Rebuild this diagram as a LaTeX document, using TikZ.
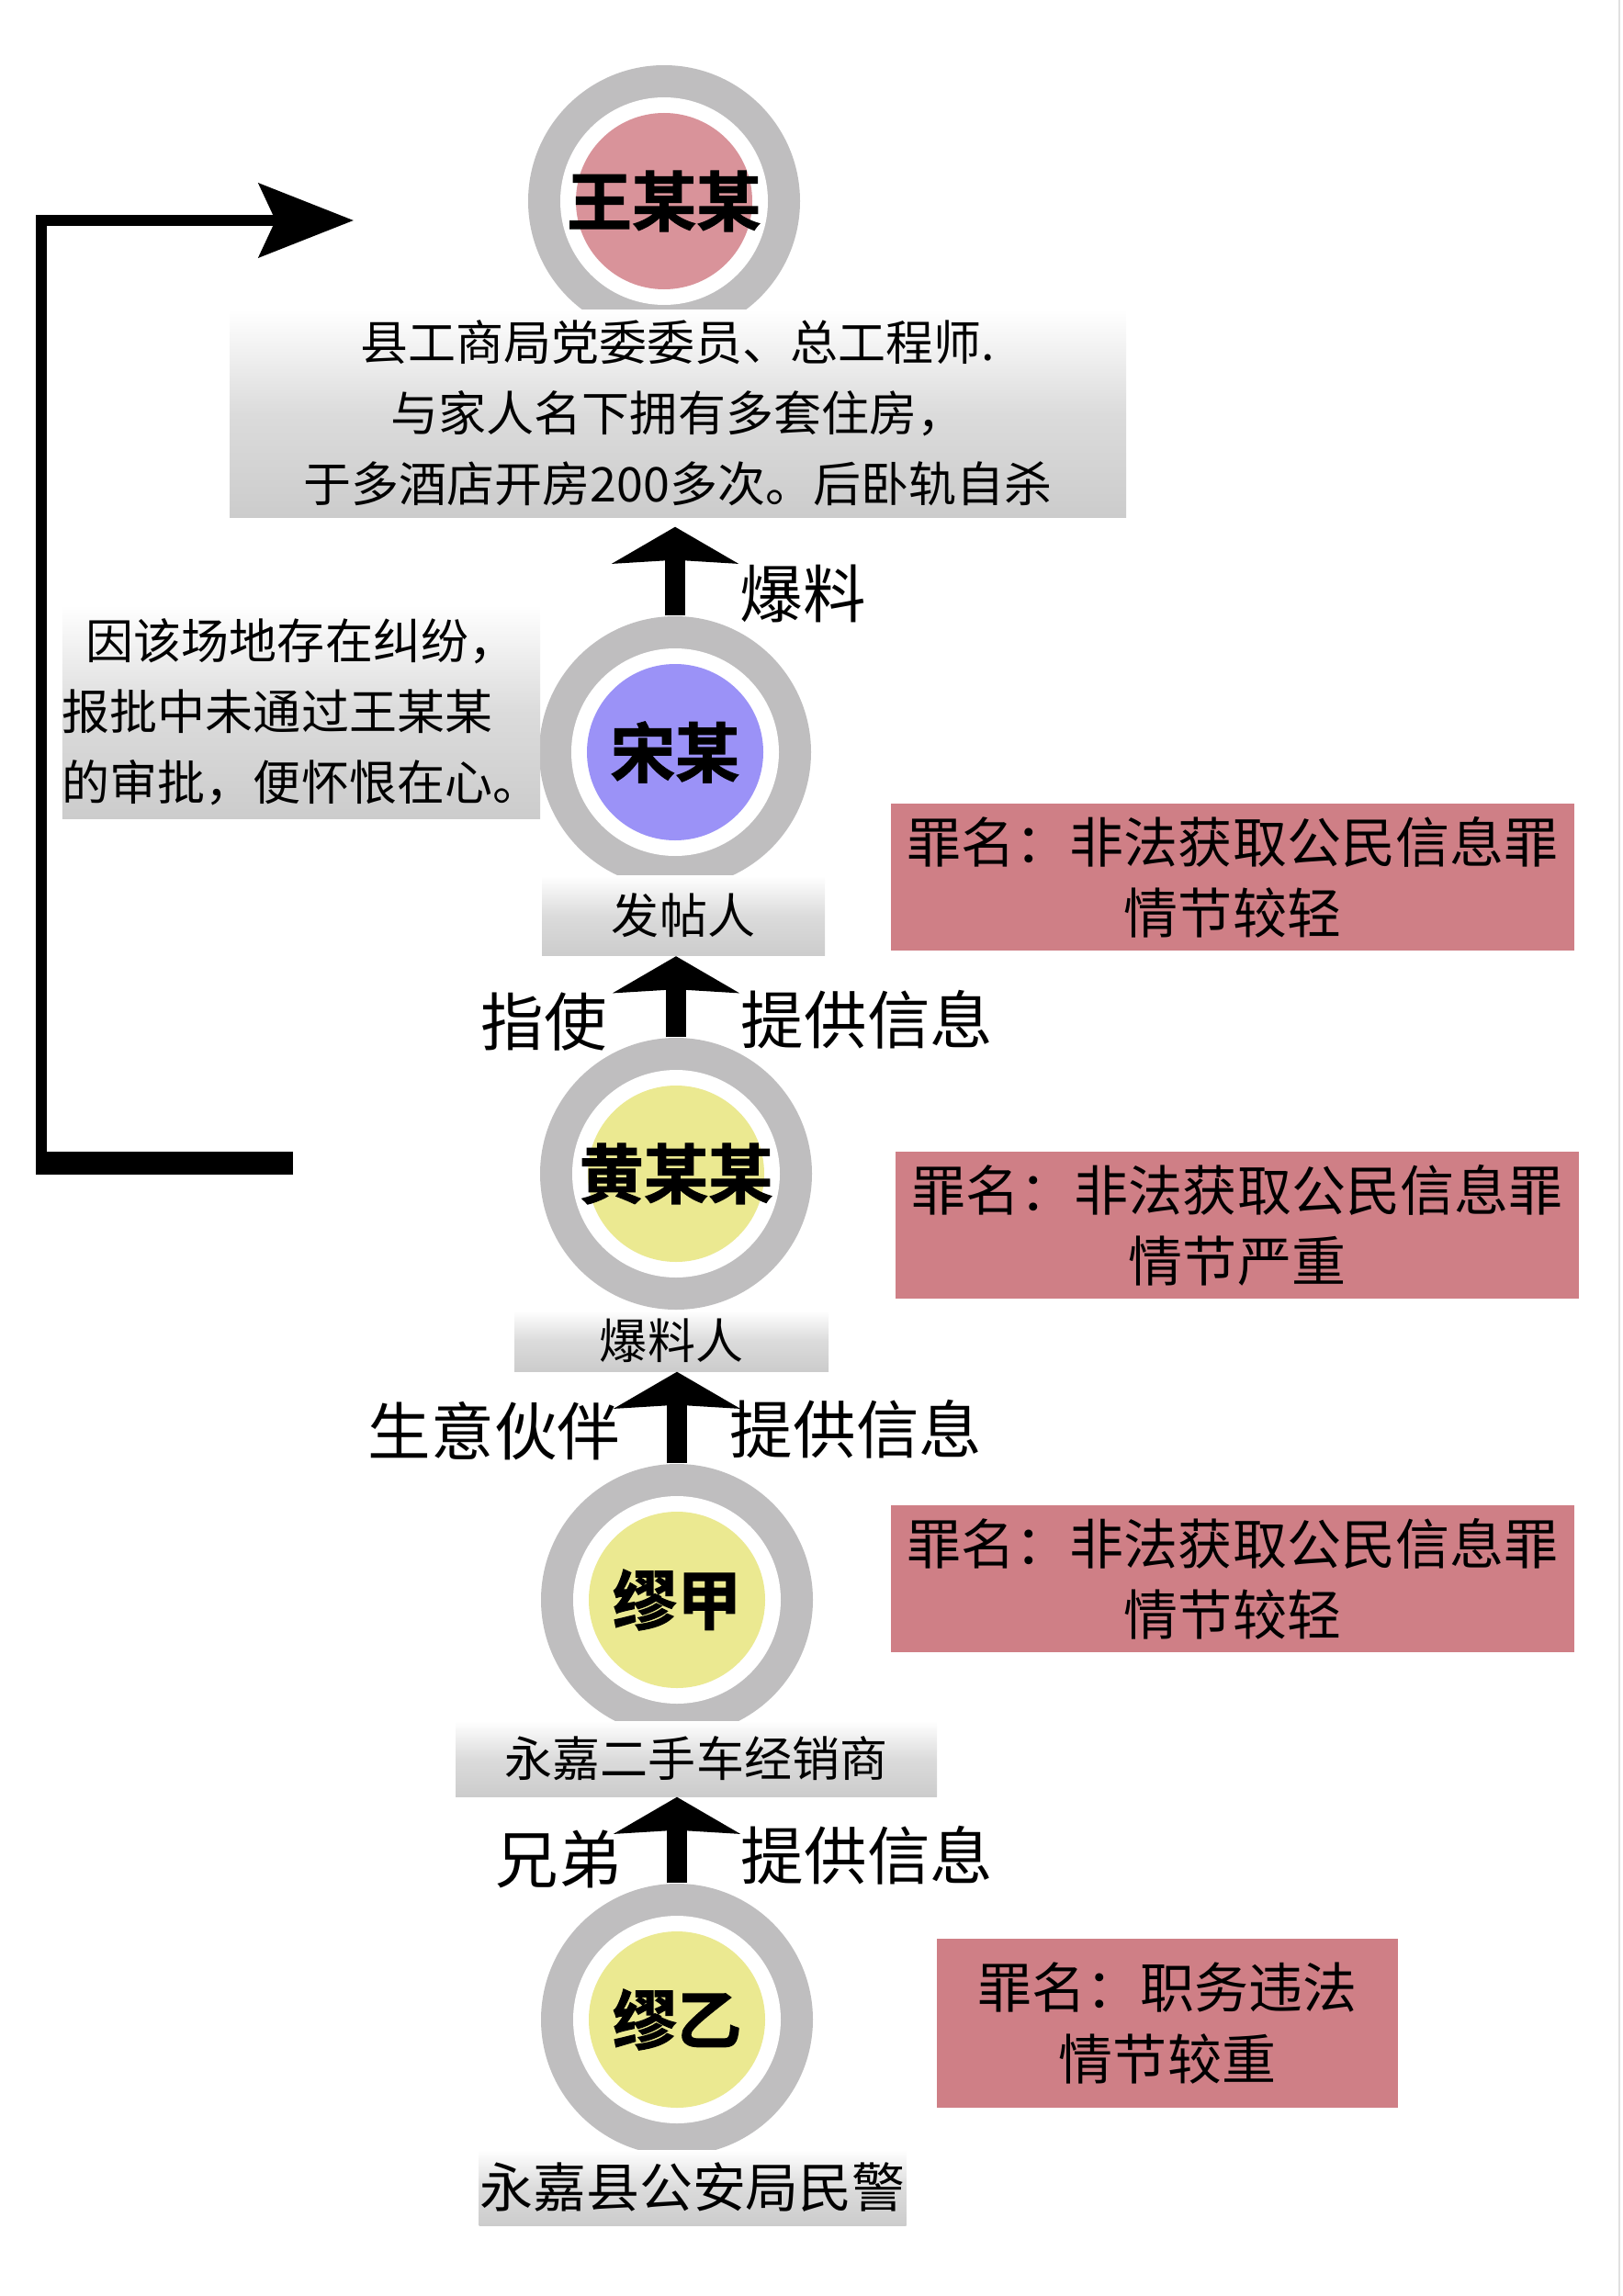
\documentclass[tikz,border=0pt]{standalone}
\usepackage{fontspec}
\newfontfamily\cjk{Noto Sans CJK SC}
\newfontfamily\cjkheavy{Noto Sans CJK SC}[UprightFont=* Bold, FakeBold=1.6]
\usetikzlibrary{arrows.meta}
\definecolor{ringgray}{RGB}{191,190,191}
\definecolor{boxgray}{RGB}{204,204,204}
\definecolor{crimered}{RGB}{207,127,134}
\definecolor{wangpink}{RGB}{217,147,154}
\definecolor{songblue}{RGB}{155,146,247}
\definecolor{suspyellow}{RGB}{235,233,145}
\tikzset{
  person/.style={circle, inner sep=0, minimum size=2.96cm, fill=ringgray,
    font=\cjkheavy\fontsize{20pt}{24pt}\selectfont,
    path picture={\fill[white] (path picture bounding box.center) circle (1.13cm);
      \fill[#1] (path picture bounding box.center) circle (0.96cm);}},
  infobox/.style={top color=white, bottom color=boxgray, middle color=boxgray!70!white,
    inner sep=0, align=center, font=\cjk\fontsize{14.8pt}{21.9pt}\selectfont},
  crimebox/.style={fill=crimered, inner sep=0, align=center, minimum height=1.6cm,
    font=\cjk\fontsize{16.8pt}{22pt}\selectfont},
  rel/.style={font=\cjk\fontsize{19.5pt}{23pt}\selectfont},
  flowarrow/.style={line width=0.22cm, -{Stealth[length=0.4cm, width=1.37cm, inset=0.04cm]}}
}
\begin{document}
\begin{tikzpicture}
\useasboundingbox (0,0) rectangle (17.67,-25);
\draw[black!12, line width=0.02cm] (17.63,0) -- (17.63,-25);
\node[person=wangpink] (wang) at (7.23,-2.19){王某某};
\node[person=songblue] (song) at (7.35,-8.19){宋某};
\node[person=suspyellow] (huang) at (7.36,-12.78){黄某某};
\node[person=suspyellow] (miaojia) at (7.37,-17.42){缪甲};
\node[person=suspyellow] (miaoyi) at (7.37,-21.99){缪乙};
\node[infobox, minimum width=9.76cm, minimum height=2.26cm] (wangbox) at (7.38,-4.50){县工商局党委委员、总工程师.\\与家人名下拥有多套住房，\\于多酒店开房200多次。后卧轨自杀};
\node[infobox, align=left, minimum width=5.16cm, minimum height=2.33cm] (motive) at (3.28,-7.75){\hspace*{0.26cm}因该场地存在纠纷，\\报批中未通过王某某\\的审批，便怀恨在心。};
\node[infobox, minimum width=3.08cm, minimum height=0.87cm] (songrole) at (7.44,-9.97){发帖人};
\node[infobox, minimum width=3.42cm, minimum height=0.66cm] (huangrole) at (7.31,-14.60){爆料人};
\node[infobox, minimum width=5.24cm, minimum height=0.82cm] (jiarole) at (7.58,-19.15){永嘉二手车经销商};
\node[infobox, minimum width=4.65cm, minimum height=0.82cm, font=\cjk\fontsize{16.5pt}{20pt}\selectfont] (yirole) at (7.54,-23.82){永嘉县公安局民警};
\node[crimebox, minimum width=7.44cm] (songcrime) at (13.42,-9.55){罪名：非法获取公民信息罪\\情节较轻};
\node[crimebox, minimum width=7.44cm] (huangcrime) at (13.47,-13.34){罪名：非法获取公民信息罪\\情节严重};
\node[crimebox, minimum width=7.44cm] (jiacrime) at (13.42,-17.19){罪名：非法获取公民信息罪\\情节较轻};
\node[crimebox, minimum width=5.02cm, minimum height=1.84cm] (yicrime) at (12.71,-22.03){罪名：职务违法\\情节较重};
\draw[flowarrow, shorten >=0.1cm] (song.north) -- (song.north |- wangbox.south);
\draw[flowarrow] (huang.north) -- (huang.north |- songrole.south);
\draw[flowarrow] (miaojia.north) -- (miaojia.north |- huangrole.south);
\draw[flowarrow] (miaoyi.north) -- (miaoyi.north |- jiarole.south);
\node[rel] (baoliao) at (8.74,-6.46){爆料};
\node[rel] (zhishi) at (5.92,-11.13){指使};
\node[rel] (tigong1) at (9.44,-11.10){提供信息};
\node[rel] (huoban) at (5.38,-15.58){生意伙伴};
\node[rel] (tigong2) at (9.32,-15.56){提供信息};
\node[rel] (xiongdi) at (6.08,-20.24){兄弟};
\node[rel] (tigong3) at (9.44,-20.20){提供信息};
\coordinate (brkA) at (3.19,-12.66);
\coordinate (brkB) at (0.45,-2.40);
\coordinate (brkC) at (3.85,-2.40);
\draw[line width=0.12cm, -{Stealth[length=1.03cm, width=0.8cm, inset=0.18cm]}] (brkA) -| (brkB) -- (brkC);
\draw[line width=0.25cm, shorten >=-0.06cm] (brkA) -- (brkA -| brkB);
\end{tikzpicture}
\end{document}
